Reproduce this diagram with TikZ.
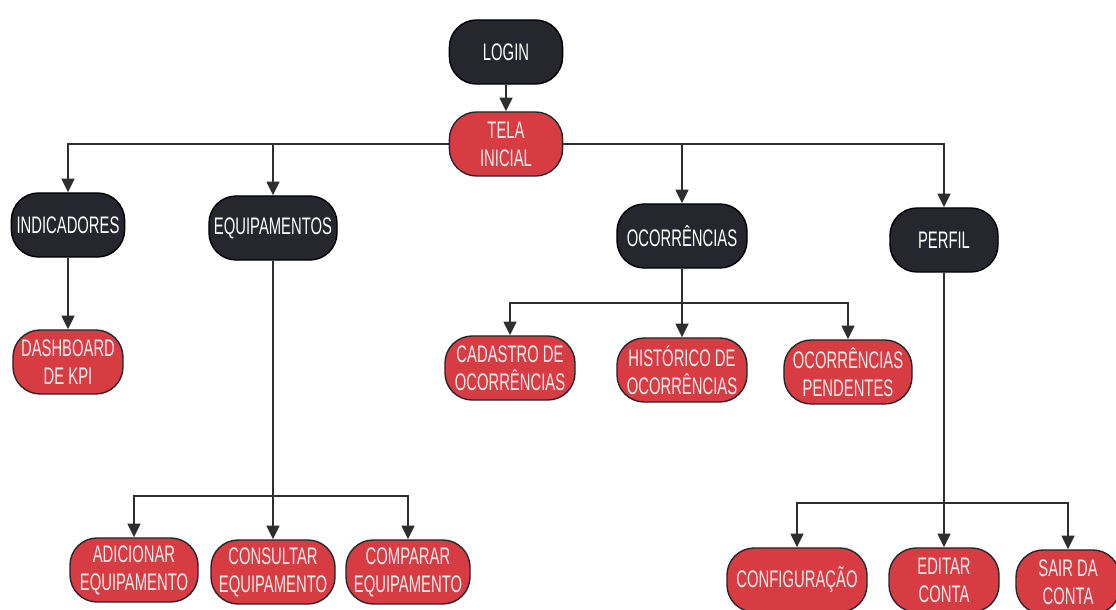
\documentclass[tikz,border=0pt]{standalone}
\usepackage{fontspec}
\setmainfont{Liberation Sans}[FakeStretch=0.62]
\usepackage{tikz}
\usetikzlibrary{arrows.meta}
\definecolor{escuro}{HTML}{25262E}
\definecolor{vermelho}{HTML}{D83C43}
\definecolor{linha}{HTML}{2E2E2E}

\begin{document}
\begin{tikzpicture}[x=0.025cm,y=-0.025cm,
  caixa/.style={rounded corners=0.68cm,minimum height=1.6cm,align=center,
    font=\fontsize{17}{20}\selectfont,text=white,line width=1pt},
  menu/.style={caixa,fill=escuro,draw=black,minimum width=#1},
  tela/.style={caixa,fill=vermelho,draw=escuro,text=white!92!red,minimum width=#1},
  seta/.style={-{Triangle[length=0.34cm,width=0.32cm]},draw=linha,line width=1.3pt}]
\useasboundingbox (0,0) rectangle (1116,610);

\node(login) at (506,52)[menu=2.83cm]          {LOGIN};
\node(inicio) at (506,144)[tela=2.83cm]        {TELA\\INICIAL};

\node(ind) at (68,225)[menu=2.83cm]            {INDICADORES};
\node(equip) at (273,228)[menu=3.2cm]          {EQUIPAMENTOS};
\node(ocorr) at (682,236)[menu=3.25cm]         {OCORRÊNCIAS};
\node(perfil) at (944,240)[menu=2.7cm]         {PERFIL};

\node(kpi) at (68,362)[tela=2.75cm]            {DASHBOARD\\DE KPI};

\node(cadastro) at (510,368)[tela=3.25cm]      {CADASTRO DE\\OCORRÊNCIAS};
\node(historico) at (682,370)[tela=3.25cm]     {HISTÓRICO DE\\OCORRÊNCIAS};
\node(pendentes) at (848,372)[tela=3.2cm]      {OCORRÊNCIAS\\PENDENTES};

\node(adicionar) at (134,570)[tela=3.2cm]      {ADICIONAR\\EQUIPAMENTO};
\node(consultar) at (273,572)[tela=3.1cm]      {CONSULTAR\\EQUIPAMENTO};
\node(comparar) at (408,572)[tela=3.1cm]       {COMPARAR\\EQUIPAMENTO};

\node(config) at (797,580)[tela=3.5cm]         {CONFIGURAÇÃO};
\node(editar) at (944,580)[tela=2.75cm]        {EDITAR\\CONTA};
\node(sair) at (1068,582)[tela=2.6cm]          {SAIR DA\\CONTA};

\coordinate(barocorr) at (682,303);
\coordinate(barequip) at (273,496);
\coordinate(barperfil) at (944,503);

\draw [seta] (login) -- (inicio);
\draw [seta] (inicio) -| (ind);
\draw [seta] (inicio) -| (equip);
\draw [seta] (inicio) -| (ocorr);
\draw [seta] (inicio) -| (perfil);
\draw [seta] (ind) -- (kpi);

\draw [seta] (ocorr) -- (historico);
\draw [seta] (barocorr) -| (cadastro);
\draw [seta] (barocorr) -| (pendentes);

\draw [seta] (equip) -- (consultar);
\draw [seta] (barequip) -| (adicionar);
\draw [seta] (barequip) -| (comparar);

\draw [seta] (perfil) -- (editar);
\draw [seta] (barperfil) -| (config);
\draw [seta] (barperfil) -| (sair);

\end{tikzpicture}
\end{document}
